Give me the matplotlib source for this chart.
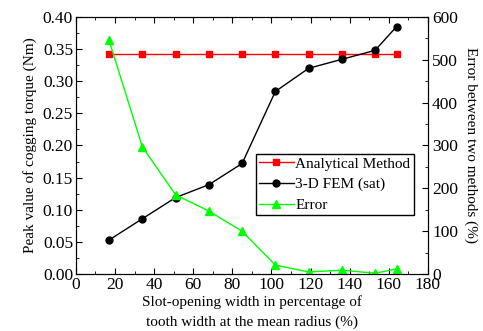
import matplotlib
matplotlib.use("Agg")
import matplotlib.pyplot as plt
from matplotlib.ticker import MultipleLocator, FormatStrFormatter

plt.rcParams['font.family'] = ['Liberation Serif', 'DejaVu Serif']
plt.rcParams['font.size'] = 11

# data
slot_width = [17, 34, 51, 68, 85, 102, 119, 136, 153, 164]
analytical = [0.342] * 10
fem_sat = [0.053, 0.086, 0.119, 0.139, 0.172, 0.284, 0.320, 0.334, 0.348, 0.385]
error_pct = [545, 297, 185, 147, 100, 21, 5, 9, 2, 12]

fig = plt.figure(figsize=(4.83, 3.31), dpi=100)
ax = fig.add_axes([0.157, 0.172, 0.729, 0.777])
ax2 = ax.twinx()

l1, = ax.plot(slot_width, analytical, color='red', marker='s', markersize=5, lw=1, label='Analytical Method')
l2, = ax.plot(slot_width, fem_sat, color='black', marker='o', markersize=5, lw=1, label='3-D FEM (sat)')
l3, = ax2.plot(slot_width, error_pct, color='#00ff00', marker='^', markersize=6, lw=1, label='Error')

ax.set_xlim(0, 180)
ax.set_ylim(0, 0.40)
ax2.set_ylim(0, 600)
ax.xaxis.set_major_locator(MultipleLocator(20))
ax.xaxis.set_minor_locator(MultipleLocator(10))
ax.yaxis.set_major_locator(MultipleLocator(0.05))
ax.yaxis.set_minor_locator(MultipleLocator(0.025))
ax.yaxis.set_major_formatter(FormatStrFormatter('%.2f'))
ax2.yaxis.set_major_locator(MultipleLocator(100))
ax2.yaxis.set_minor_locator(MultipleLocator(50))

for a in (ax, ax2):
    a.tick_params(which='both', direction='in', labelsize=12.5)
    a.tick_params(which='major', length=4)
    a.tick_params(which='minor', length=2)
ax.tick_params(which='both', top=True)
ax.tick_params(axis='x', pad=2)
ax.tick_params(axis='y', pad=2)
ax2.tick_params(axis='y', pad=3)

ax.set_xlabel('Slot-opening width in percentage of\ntooth width at the mean radius (%)',
              fontsize=11, linespacing=1.6, labelpad=2)
ax.set_ylabel('Peak value of cogging torque (Nm)', fontsize=11, labelpad=4)
ax2.set_ylabel('Error between two methods (%)', rotation=270, labelpad=14, fontsize=11)

leg = ax.legend(handles=[l1, l2, l3], loc='upper left', bbox_to_anchor=(0.511, 0.467),
                fancybox=False, edgecolor='black', framealpha=1, fontsize=11,
                handlelength=2.3, handletextpad=0.1, borderpad=0.2, labelspacing=0.45,
                borderaxespad=0)
leg.get_frame().set_linewidth(1)

fig.savefig('out.png', dpi=100)
